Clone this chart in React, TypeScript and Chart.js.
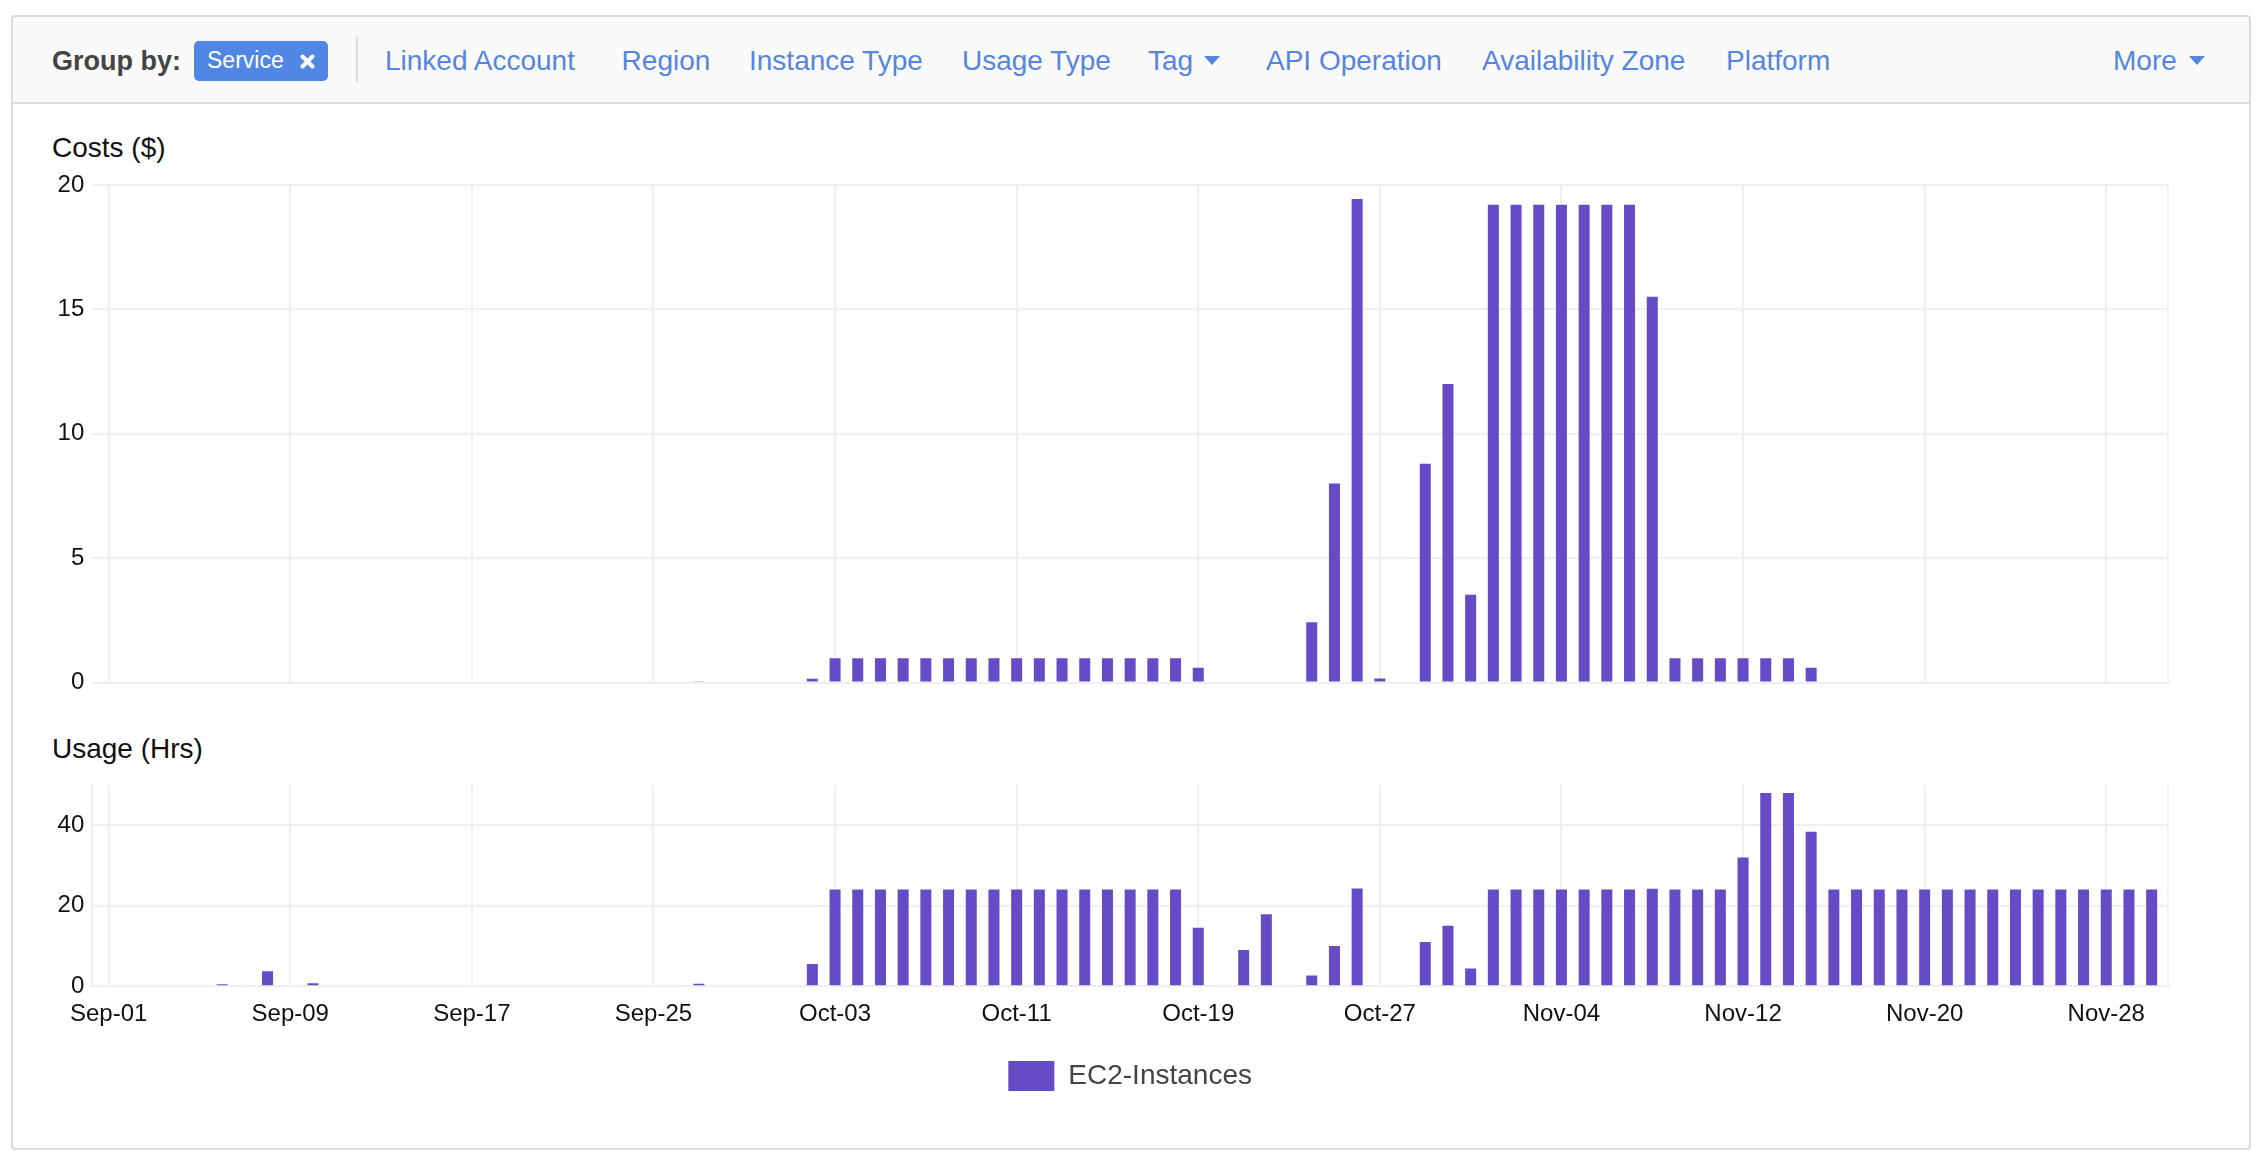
import React, { useEffect, useRef } from 'react';
import { Chart, registerables } from 'chart.js';

Chart.register(...registerables);

// ---- data ----
const dates = [
  'Sep-01','Sep-02','Sep-03','Sep-04','Sep-05','Sep-06','Sep-07','Sep-08','Sep-09','Sep-10',
  'Sep-11','Sep-12','Sep-13','Sep-14','Sep-15','Sep-16','Sep-17','Sep-18','Sep-19','Sep-20',
  'Sep-21','Sep-22','Sep-23','Sep-24','Sep-25','Sep-26','Sep-27','Sep-28','Sep-29','Sep-30',
  'Oct-01','Oct-02','Oct-03','Oct-04','Oct-05','Oct-06','Oct-07','Oct-08','Oct-09','Oct-10',
  'Oct-11','Oct-12','Oct-13','Oct-14','Oct-15','Oct-16','Oct-17','Oct-18','Oct-19','Oct-20',
  'Oct-21','Oct-22','Oct-23','Oct-24','Oct-25','Oct-26','Oct-27','Oct-28','Oct-29','Oct-30',
  'Oct-31',
  'Nov-01','Nov-02','Nov-03','Nov-04','Nov-05','Nov-06','Nov-07','Nov-08','Nov-09','Nov-10',
  'Nov-11','Nov-12','Nov-13','Nov-14','Nov-15','Nov-16','Nov-17','Nov-18','Nov-19','Nov-20',
  'Nov-21','Nov-22','Nov-23','Nov-24','Nov-25','Nov-26','Nov-27','Nov-28','Nov-29','Nov-30',
];

// Costs ($) per day
const costs = [
  0, 0, 0, 0, 0, 0, 0, 0, 0, 0,
  0, 0, 0, 0, 0, 0, 0, 0, 0, 0,
  0, 0, 0, 0, 0, 0, 0.05, 0, 0, 0,
  0, 0.15, 0.98, 0.98, 0.98, 0.98, 0.98, 0.98, 0.98, 0.98,
  0.98, 0.98, 0.98, 0.98, 0.98, 0.98, 0.98, 0.98, 0.6, 0,
  0, 0, 0, 2.43, 8.0, 19.44, 0.16, 0, 8.8, 12.0,
  3.53,
  19.21, 19.21, 19.21, 19.21, 19.21, 19.21, 19.21, 15.51, 0.98, 0.98,
  0.98, 0.98, 0.98, 0.98, 0.6, 0, 0, 0, 0, 0,
  0, 0, 0, 0, 0, 0, 0, 0, 0, 0,
];

// Usage (Hrs) per day
const usage = [
  0, 0, 0, 0, 0, 0.5, 0, 3.7, 0, 0.75,
  0, 0, 0, 0, 0, 0, 0, 0, 0, 0,
  0, 0, 0, 0, 0, 0, 0.6, 0.25, 0, 0,
  0, 5.5, 24, 24, 24, 24, 24, 24, 24, 24,
  24, 24, 24, 24, 24, 24, 24, 24, 14.5, 0,
  9, 17.9, 0, 2.65, 10, 24.3, 0.25, 0, 11, 15,
  4.4,
  24, 24, 24, 24, 24, 24, 24, 24.2, 24, 24,
  24, 32, 48, 48, 38.4, 24, 24, 24, 24, 24,
  24, 24, 24, 24, 24, 24, 24, 24, 24, 24,
];

const seriesName = 'EC2-Instances';
const costTickStep = 5;
const costMax = 20;
const usageTickStep = 20;
const usageMax = 50;
const dateTickStep = 8;

const groupByLinks = [
  { text: 'Linked Account', x: 385 },
  { text: 'Region', x: 621.6 },
  { text: 'Instance Type', x: 749 },
  { text: 'Usage Type', x: 962 },
  { text: 'Tag', x: 1148, caret: 1204 },
  { text: 'API Operation', x: 1266 },
  { text: 'Availability Zone', x: 1482 },
  { text: 'Platform', x: 1726 },
  { text: 'More', x: 2113, caret: 2189 },
];

// ---- style ----
const FONT = '"Liberation Sans", Arial, Helvetica, sans-serif';
const BAR = '#654cc6';
const GRID = '#efefef';
const TICK = '#111111';
const LINK = '#5585df';
const PANEL_BORDER = '#d8dcdc';

Chart.defaults.font.family = FONT;

function makeConfig(values: number[], opts: {
  yMax: number; yStep: number; showX: boolean; legend: boolean; leftBorder: boolean;
  padding: { top: number; right: number; bottom: number; left: number };
}): any {
  return {
    type: 'bar',
    data: {
      datasets: [
        {
          label: seriesName,
          data: values.map((v, i) => ({ x: i, y: v })),
          backgroundColor: BAR,
          borderWidth: 0,
          categoryPercentage: 1,
          barPercentage: 0.485,
        },
      ],
    },
    options: {
      responsive: true,
      maintainAspectRatio: false,
      animation: false,
      devicePixelRatio: 1,
      layout: { padding: opts.padding },
      plugins: {
        tooltip: { enabled: false },
        title: { display: false },
        legend: {
          display: opts.legend,
          position: 'bottom',
          fullSize: false,
          labels: {
            boxWidth: 46,
            boxHeight: 30,
            padding: 18,
            color: '#444444',
            font: { size: 28, family: FONT },
          },
        },
      },
      scales: {
        x: {
          type: 'linear',
          min: -0.72,
          max: 90.72,
          offset: false,
          grid: { color: GRID, lineWidth: 2, drawTicks: false, offset: false },
          border: { display: false },
          ticks: {
            display: opts.showX,
            stepSize: dateTickStep,
            includeBounds: false,
            autoSkip: false,
            maxRotation: 0,
            minRotation: 0,
            padding: 14,
            color: TICK,
            font: { size: 24, family: FONT },
            callback: (v: number) => dates[v] ?? '',
          },
        },
        y: {
          type: 'linear',
          position: 'left',
          min: 0,
          max: opts.yMax,
          grid: { color: GRID, lineWidth: 2, drawTicks: false },
          border: { display: opts.leftBorder, color: GRID, width: 2 },
          ticks: {
            stepSize: opts.yStep,
            includeBounds: false,
            padding: 8,
            color: TICK,
            font: { size: 24, family: FONT },
          },
          afterFit: (s: any) => { s.width = 92.3; },
        },
        yEdge: {
          type: 'linear',
          position: 'right',
          display: true,
          grid: { display: false, drawTicks: false },
          ticks: { display: false },
          border: { display: true, color: GRID, width: 2 },
        },
      },
    },
  };
}

function BarCanvas({ values, top, height, config }: { values: number[]; top: number; height: number; config: any }) {
  const ref = useRef<HTMLCanvasElement | null>(null);
  useEffect(() => {
    if (!ref.current) return;
    const chart = new Chart(ref.current, makeConfig(values, config));
    return () => chart.destroy();
  }, []);
  return (
    <div style={{ position: 'absolute', left: 0, top, width: 2200, height }}>
      <canvas ref={ref} />
    </div>
  );
}

function Caret({ x }: { x: number }) {
  return (
    <div
      style={{
        position: 'absolute', left: x, top: 56, width: 0, height: 0,
        borderLeft: '8px solid transparent', borderRight: '8px solid transparent',
        borderTop: `9px solid ${LINK}`,
      }}
    />
  );
}

export default function App() {
  const text = (content: string, left: number, top: number, style: React.CSSProperties = {}) => (
    <div
      style={{
        position: 'absolute', left, top, height: 40, lineHeight: '40px', whiteSpace: 'nowrap',
        fontFamily: FONT, fontSize: 28, ...style,
      }}
    >
      {content}
    </div>
  );

  return (
    <div style={{ position: 'absolute', left: 0, top: 0, width: 2264, height: 1164, background: '#fff', overflow: 'hidden', fontFamily: FONT }}>
      {/* header bar */}
      <div style={{ position: 'absolute', left: 11, top: 15, width: 2240, height: 89, boxSizing: 'border-box', border: `2px solid ${PANEL_BORDER}`, borderRadius: '4px 4px 0 0', background: '#fafafa' }} />
      {/* main panel */}
      <div style={{ position: 'absolute', left: 11, top: 102, width: 2240, height: 1048, boxSizing: 'border-box', border: `2px solid ${PANEL_BORDER}`, borderRadius: '0 0 4px 4px', background: '#fff' }} />

      {text('Group by:', 52, 41, { fontWeight: 'bold', fontSize: 27, color: '#444' })}
      <div style={{ position: 'absolute', left: 194, top: 41, width: 134, height: 40, background: '#5087e4', borderRadius: 5 }} />
      {text('Service', 207, 39.5, { fontSize: 23, color: '#fff' })}
      <svg style={{ position: 'absolute', left: 300, top: 54 }} width="15" height="15" viewBox="0 0 15 15">
        <line x1="2.5" y1="2.5" x2="12.5" y2="12.5" stroke="#fff" strokeWidth="4" strokeLinecap="round" />
        <line x1="12.5" y1="2.5" x2="2.5" y2="12.5" stroke="#fff" strokeWidth="4" strokeLinecap="round" />
      </svg>
      <div style={{ position: 'absolute', left: 356, top: 37, width: 2, height: 45, background: '#d9dcdc' }} />

      {groupByLinks.map((l) => (
        <React.Fragment key={l.text}>
          {text(l.text, l.x, 41, { color: LINK })}
          {l.caret !== undefined ? <Caret x={l.caret} /> : null}
        </React.Fragment>
      ))}

      {text('Costs ($)', 52, 127.5, { color: '#111' })}
      {text('Usage (Hrs)', 52, 728.5, { color: '#111' })}

      <BarCanvas
        values={costs}
        top={160}
        height={545}
        config={{ yMax: costMax, yStep: costTickStep, showX: false, legend: false, leftBorder: false, padding: { top: 25, right: 32, bottom: 20.5, left: 0 } }}
      />
      <BarCanvas
        values={usage}
        top={760}
        height={351}
        config={{ yMax: usageMax, yStep: usageTickStep, showX: true, legend: true, leftBorder: true, padding: { top: 25, right: 32, bottom: 10, left: 0 } }}
      />
    </div>
  );
}
